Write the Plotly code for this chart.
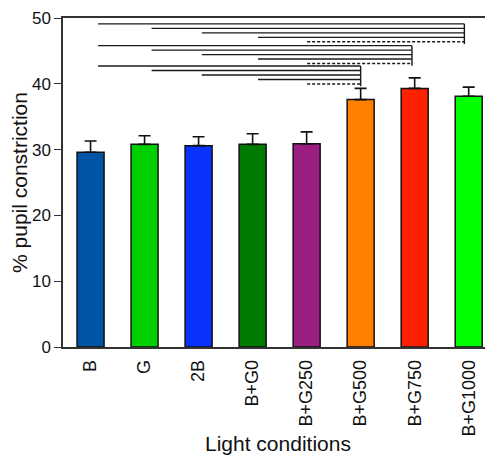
import plotly.graph_objects as go

categories = ["B", "G", "2B", "B+G0", "B+G250", "B+G500", "B+G750", "B+G1000"]
values = [29.6, 30.8, 30.6, 30.8, 30.9, 37.6, 39.3, 38.1]
errors = [1.7, 1.3, 1.35, 1.6, 1.8, 1.7, 1.6, 1.4]
colors = ["#0054A6", "#00D000", "#0A32FF", "#007A00", "#9A1F80", "#FF8000", "#FF2000", "#00FF00"]

# significance comparisons: each group ends at a target bar
sig_targets = [6.92, 5.95, 5.0]
sig_starts = [0.14, 1.13, 2.06, 3.1, 4.01]
sig_group_top = [49.1, 45.8, 42.7]
sig_step = 0.68
sig_dashed = [False, False, False, False, True]

fig = go.Figure()
fig.add_trace(go.Bar(
    x=list(range(len(categories))), y=values,
    marker=dict(color=colors, line=dict(color="#111111", width=1.5)),
    width=0.5,
    error_y=dict(type="data", array=errors, arrayminus=[0] * len(errors),
                 color="#111111", thickness=1.6, width=6),
))

shapes = []
for g, (xt, ytop) in enumerate(zip(sig_targets, sig_group_top)):
    ys = [ytop - i * sig_step for i in range(len(sig_starts))]
    for xs, yy, dsh in zip(sig_starts, ys, sig_dashed):
        shapes.append(dict(type="line", xref="x", yref="y", x0=xs, x1=xt, y0=yy, y1=yy,
                           line=dict(color="#1a1a1a", width=1.4, dash="3px,2px" if dsh else "solid")))
    shapes.append(dict(type="line", xref="x", yref="y", x0=xt, x1=xt, y0=ys[0], y1=ys[-1] - 0.35,
                       line=dict(color="#1a1a1a", width=1.4)))

# page body adds an 8px offset; compensate so the plot lands where the reference has it
fig.update_layout(
    width=485, height=448,
    margin=dict(l=55, r=0, t=10, b=109),
    plot_bgcolor="white", paper_bgcolor="white",
    showlegend=False,
    font=dict(family="Liberation Sans, Arial, sans-serif", color="#111111"),
    shapes=shapes,
    xaxis=dict(range=[-0.51, 7.45], tickmode="array", tickvals=list(range(len(categories))),
               ticktext=categories, tickangle=-90, tickfont=dict(size=18),
               showline=True, linecolor="#333333", linewidth=1.5, mirror=True,
               showgrid=False, zeroline=False, ticks="", ticklabelstandoff=4),
    yaxis=dict(range=[0, 50], tickvals=[0, 10, 20, 30, 40, 50], tickfont=dict(size=17),
               showline=True, linecolor="#333333", linewidth=1.5, showgrid=False,
               zeroline=False, ticks="outside", ticklen=7, tickcolor="#333333", tickwidth=1.2,
               title=dict(text="% pupil constriction", font=dict(size=21), standoff=6)),
    annotations=[dict(text="Light conditions", xref="paper", yref="paper", x=0.5, y=-0.335,
                      xanchor="center", yanchor="bottom", showarrow=False,
                      font=dict(size=21))],
)

fig.write_html("out.html")
